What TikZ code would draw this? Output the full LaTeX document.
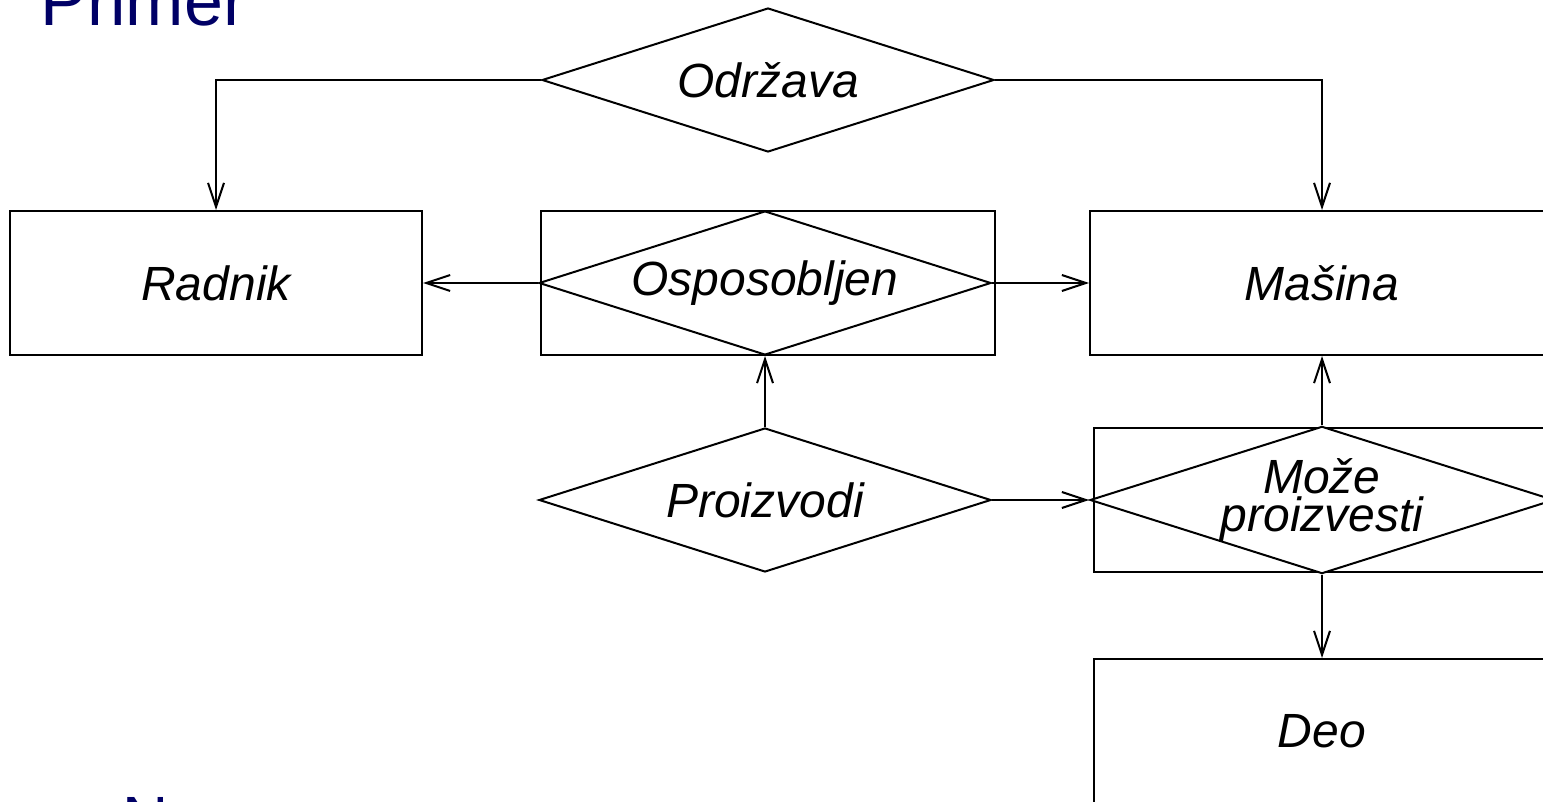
\documentclass[tikz,border=0pt]{standalone}
\usepackage{fontspec}
\setmainfont{Liberation Sans}
\usepackage{tikz}
\usetikzlibrary{shapes.geometric,arrows.meta}
\definecolor{primerblue}{HTML}{000066}

\begin{document}
\begin{tikzpicture}[
    x=0.5pt, y=-0.5pt,
    ent/.style={rectangle, draw, line width=1pt, minimum width=227pt, minimum height=72pt, font=\fontsize{24}{19}\selectfont\itshape},
    rel/.style={diamond, draw, fill=white, line width=1pt, aspect=3.15, inner sep=0pt, minimum width=226pt, minimum height=72pt, align=center, font=\fontsize{24}{19}\selectfont\itshape},
    arr/.style={-{Straight Barb[length=12pt,width=8pt]}, line width=1pt},
    heading/.style={anchor=base west, inner sep=0pt, text=primerblue}
]
\useasboundingbox (0,0) rectangle (1543,802);
\clip (0,0) rectangle (1543,802);

\node[heading, font=\fontsize{35}{42}\selectfont] (primer) at (40,26) {Primer};
\node[heading, font=\fontsize{32}{38}\selectfont] (nap) at (122,841) {N};

\node[rel] (odr) at (768,80) {Održava};
\node[ent, minimum width=206pt] (rad) at (216,283) {Radnik};
\node[ent] (ospbox) at (768,283) {};
\node[rel] (osp) at (765,283) {Osposobljen};
\node[ent, minimum width=232pt] (mas) at (1322,283) {Mašina};
\node[rel] (pro) at (765,500) {Proizvodi};
\node[ent, minimum width=228pt] (mogbox) at (1322,500) {};
\node[rel] (mog) at (1322,500) {Može\\proizvesti};
\node[ent, minimum width=228pt] (deo) at (1322,731) {Deo};

\draw[arr] (odr.west) -| (rad.north);
\draw[arr] (odr.east) -| (mas.north);
\draw[arr] (osp.west) -- (rad.east);
\draw[arr] (osp.east) -- (mas.west);
\draw[arr] (pro.north) -- (osp.south);
\draw[arr] (pro.east) -- (mog.west);
\draw[arr] (mog.north) -- (mas.south);
\draw[arr] (mog.south) -- (deo.north);
\end{tikzpicture}
\end{document}
